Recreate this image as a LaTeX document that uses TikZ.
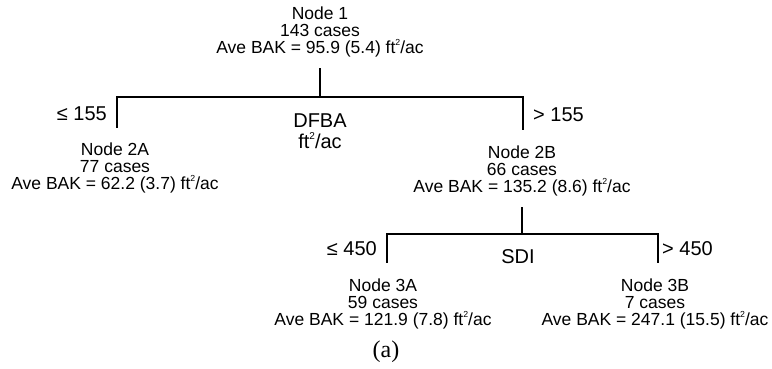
\documentclass[tikz,border=0pt]{standalone}
\usepackage{fontspec}
\setmainfont{Liberation Sans}
\newfontfamily\capserif{Liberation Serif}
\newcommand{\sqsup}{\raisebox{0.45em}{\fontsize{0.5em}{0.5em}\selectfont 2}}
\tikzset{
  leaf/.style={align=center, font=\fontsize{17.5}{16.9}\selectfont, inner sep=0pt, anchor=base},
  cond/.style={font=\fontsize{20}{20}\selectfont, inner sep=0pt},
  edge/.style={line width=1.4pt, line cap=rect}
}
\begin{document}
\begin{tikzpicture}[x=1pt,y=-1pt]
\useasboundingbox (0,0) rectangle (772,368);
% tree nodes (anchor base = baseline of last line)
\node[leaf] (n1)  at (320,53.5)  {Node 1\\143 cases\\Ave BAK = 95.9 (5.4) ft\sqsup/ac};
\node[leaf] (n2a) at (115,189.5) {Node 2A\\77 cases\\Ave BAK = 62.2 (3.7) ft\sqsup/ac};
\node[leaf] (n2b) at (522,192.5) {Node 2B\\66 cases\\Ave BAK = 135.2 (8.6) ft\sqsup/ac};
\node[leaf] (n3a) at (383,325.5) {Node 3A\\59 cases\\Ave BAK = 121.9 (7.8) ft\sqsup/ac};
\node[leaf] (n3b) at (655,325.5) {Node 3B\\7 cases\\Ave BAK = 247.1 (15.5) ft\sqsup/ac};
% split labels
\node[cond, anchor=base east] (c1l) at (107,120) {≤ 155};
\node[cond, anchor=base west] (c1r) at (533,121) {> 155};
\node[cond, anchor=base, align=center, font=\fontsize{20}{21}\selectfont] (v1) at (320,148) {DFBA\\ft\sqsup/ac};
\node[cond, anchor=base east] (c2l) at (377,255) {≤ 450};
\node[cond, anchor=base west] (c2r) at (662,255) {> 450};
\node[cond, anchor=base] (v2) at (518,263) {SDI};
\node[inner sep=0pt, anchor=base, font=\capserif\fontsize{24}{24}\selectfont] (cap) at (386,357) {(a)};
% split 1
\coordinate (j1)  at (320,97);
\coordinate (j1l) at (117,97);
\coordinate (e2a) at (117,127);
\coordinate (j1r) at (523,97);
\coordinate (e2b) at (523,129);
\draw[edge, shorten <=11pt] (n1.south) -- (j1);
\draw[edge] (e2a) -- (j1l) -- (j1r) -- (e2b);
% split 2
\coordinate (j2)  at (522,234);
\coordinate (j2l) at (387,234);
\coordinate (e3a) at (387,262);
\coordinate (j2r) at (658,234);
\coordinate (e3b) at (658,262);
\draw[edge, shorten <=11pt] (n2b.south) -- (j2);
\draw[edge] (e3a) -- (j2l) -- (j2r) -- (e3b);
\end{tikzpicture}
\end{document}
